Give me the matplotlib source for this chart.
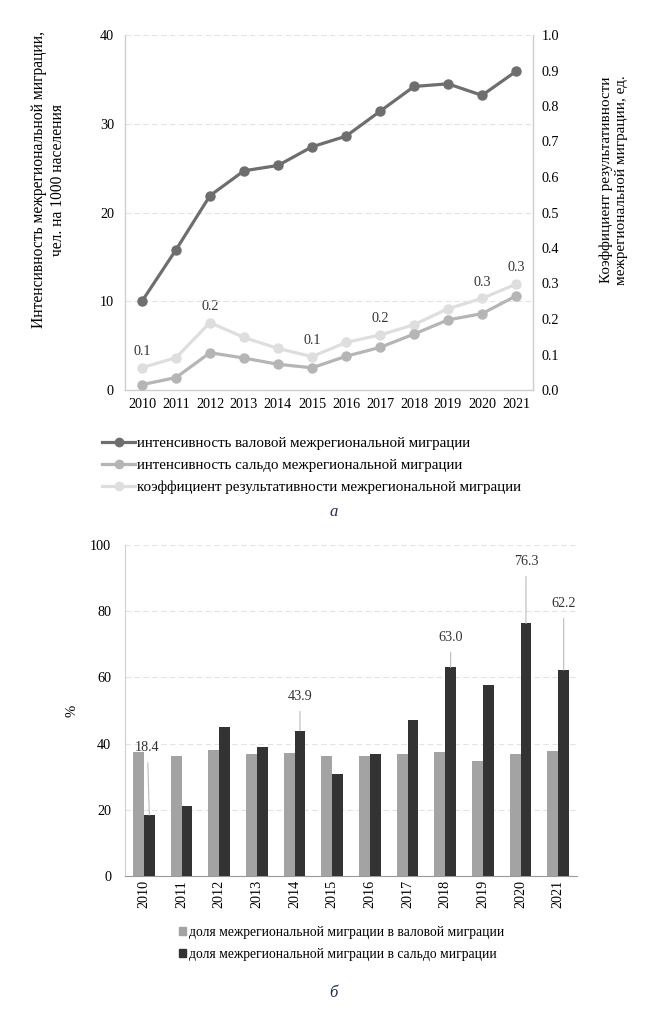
import matplotlib
matplotlib.use("Agg")
import matplotlib.pyplot as plt
from matplotlib.lines import Line2D
from matplotlib.patches import Patch
import numpy as np

plt.rcParams['font.family'] = ['Liberation Serif', 'DejaVu Serif']

years = ['2010', '2011', '2012', '2013', '2014', '2015', '2016', '2017', '2018', '2019', '2020', '2021']
gross_intensity = [10.0, 15.8, 21.9, 24.7, 25.3, 27.4, 28.6, 31.4, 34.2, 34.5, 33.2, 35.9]
net_intensity = [0.6, 1.4, 4.2, 3.6, 2.9, 2.5, 3.8, 4.8, 6.3, 7.9, 8.6, 10.6]
efficiency = [0.063, 0.091, 0.19, 0.148, 0.117, 0.094, 0.134, 0.155, 0.184, 0.229, 0.258, 0.298]
eff_labels_idx = [0, 2, 5, 7, 10, 11]

share_gross = [37.4, 36.3, 38.0, 36.9, 37.1, 36.4, 36.2, 36.9, 37.6, 34.7, 37.0, 37.7]
share_net = [18.4, 21.1, 45.1, 38.9, 43.9, 30.9, 36.8, 47.0, 63.0, 57.6, 76.3, 62.2]
share_net_labels_idx = [0, 4, 8, 10, 11]

leg_top = ['интенсивность валовой межрегиональной миграции',
           'интенсивность сальдо межрегиональной миграции',
           'коэффициент результативности межрегиональной миграции']
leg_bot = ['доля межрегиональной миграции в валовой миграции',
           'доля межрегиональной миграции в сальдо миграции']

c_gross = '#6e6e6e'
c_net = '#b5b5b5'
c_eff = '#dedede'
c_bar1 = '#a3a3a3'
c_bar2 = '#333333'
grid_c = '#e3e3e3'
spine_c = '#cfcfcf'
fs = 10.2
lfs = 10.8

fig = plt.figure(figsize=(6.68, 10.24), dpi=100)

# ---------- top chart ----------
ax = fig.add_axes([125/668, 1-390/1024, 408/668, 355/1024])
x = np.arange(len(years))
ax.plot(x, gross_intensity, color=c_gross, lw=2.3, marker='o', ms=6.5, zorder=4)
ax.plot(x, net_intensity, color=c_net, lw=2.3, marker='o', ms=6.5, zorder=3)
ax.set_xlim(-0.5, len(years)-0.5)
ax.set_ylim(0, 40)
ax.set_yticks([0, 10, 20, 30, 40])
ax.set_xticks(x)
ax.set_xticklabels(years)
ax.tick_params(axis='both', length=0, labelsize=fs, pad=6)
ax.tick_params(axis='y', pad=8)
ax.grid(axis='y', color=grid_c, ls=(0, (5, 3)), lw=0.8)
ax.set_axisbelow(True)
ax.spines['top'].set_visible(False)
for s in ['left', 'bottom', 'right']:
    ax.spines[s].set_color(spine_c)
    ax.spines[s].set_linewidth(1.0)

ax2 = ax.twinx()
ax2.plot(x, efficiency, color=c_eff, lw=2.3, marker='o', ms=6.5, zorder=2)
ax2.set_ylim(0, 1.0)
ax2.set_yticks(np.arange(0, 1.01, 0.1))
ax2.set_yticklabels([f'{v:.1f}' for v in np.arange(0, 1.01, 0.1)])
ax2.tick_params(axis='y', length=0, labelsize=fs, pad=6)
for s in ['top', 'left', 'bottom']:
    ax2.spines[s].set_visible(False)
ax2.spines['right'].set_color(spine_c)
for i in eff_labels_idx:
    ax2.annotate(f'{efficiency[i]:.1f}', (x[i], efficiency[i]), xytext=(0, 7),
                 textcoords='offset points', ha='center', va='bottom', fontsize=fs, color='#333333')
ax.set_zorder(ax2.get_zorder()+1)
ax.patch.set_visible(False)

fig.text(49/668, 1-180/1024, 'Интенсивность межрегиональной миграции,\nчел. на 1000 населения',
         rotation=90, ha='center', va='center', fontsize=11.2, linespacing=1.25)
fig.text(614/668, 1-180/1024, 'Коэффициент результативности\nмежрегиональной миграции, ед.',
         rotation=90, ha='center', va='center', fontsize=10.9, linespacing=1.25)

handles_top = [Line2D([0], [0], color=c, lw=2.3, marker='o', ms=6) for c in (c_gross, c_net, c_eff)]
fig.legend(handles_top, leg_top, loc='upper left', bbox_to_anchor=(102/668, 1-437/1024),
           frameon=False, fontsize=lfs, handlelength=2.2, handletextpad=0.12,
           labelspacing=0.55, borderaxespad=0, borderpad=0)

fig.text(334/668, 1-512/1024, 'а', ha='center', va='center', fontsize=12, style='italic', color='#1f2f55')

# ---------- bottom chart ----------
bx = fig.add_axes([125/668, 1-876/1024, 452/668, 331/1024])
w = 0.29
bx.bar(x - w/2, share_gross, width=w, color=c_bar1, zorder=3)
bx.bar(x + w/2, share_net, width=w, color=c_bar2, zorder=3)
bx.set_xlim(-0.5, len(years)-0.5)
bx.set_ylim(0, 100)
bx.set_yticks([0, 20, 40, 60, 80, 100])
bx.set_xticks(x)
bx.set_xticklabels(years, rotation=90)
bx.tick_params(axis='both', length=0, labelsize=fs)
bx.tick_params(axis='y', pad=10)
bx.tick_params(axis='x', pad=3)
bx.grid(axis='y', color=grid_c, ls=(0, (5, 3)), lw=0.8)
bx.set_axisbelow(True)
for s in ['top', 'right']:
    bx.spines[s].set_visible(False)
bx.spines['left'].set_color(spine_c)
bx.spines['bottom'].set_color('#999999')
bx.set_ylabel('%', fontsize=10.5, labelpad=8)

label_off = {0: (-0.05, 38.7), 4: (0.0, 54.2), 8: (0.0, 72.0), 10: (0.0, 95.0), 11: (0.0, 82.3)}
for i in share_net_labels_idx:
    dx, ty = label_off[i]
    bx.annotate(f'{share_net[i]:.1f}', xy=(x[i] + w/2, share_net[i]), xytext=(x[i] + w/2 + dx, ty),
                ha='center', va='center', fontsize=fs, color='#333333',
                arrowprops=dict(arrowstyle='-', color='#bbbbbb', lw=0.8, shrinkA=4, shrinkB=0))

handles_bot = [Patch(color=c_bar1), Patch(color=c_bar2)]
fig.legend(handles_bot, leg_bot, loc='upper left', bbox_to_anchor=(179/668, 1-926/1024),
           frameon=False, fontsize=9.8, handlelength=0.55, handleheight=0.55, handletextpad=0.2,
           labelspacing=0.65, borderaxespad=0, borderpad=0)

fig.text(333/668, 1-993/1024, 'б', ha='center', va='center', fontsize=12, style='italic', color='#1f2f55')

fig.savefig('out.png', dpi=100)
